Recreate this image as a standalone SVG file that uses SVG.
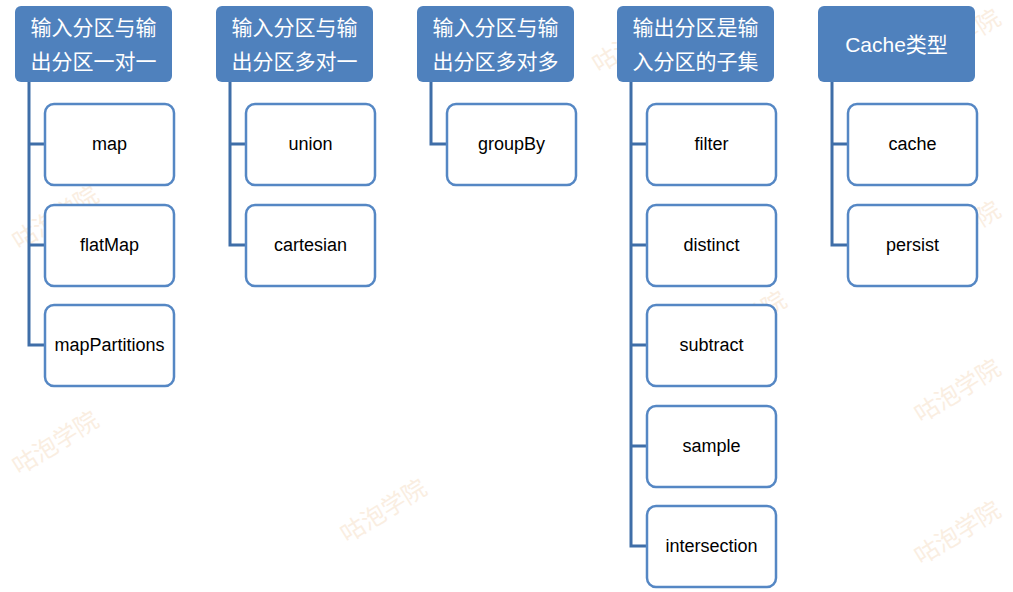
<svg xmlns="http://www.w3.org/2000/svg" width="1013" height="592" viewBox="0 0 1013 592">
<style>
.hd{fill:#4f81bd;}
.hdt{fill:#fff;font-family:"Liberation Sans","Noto Sans CJK SC",sans-serif;font-size:21px;text-anchor:middle;}
.ch{fill:#fff;stroke:#5587c4;stroke-width:2.5;}
.cht{fill:#000;font-family:"Liberation Sans","Noto Sans CJK SC",sans-serif;font-size:18px;text-anchor:middle;}
.cn{fill:none;stroke:#3f6ea8;stroke-width:3;}
.wm{fill:#f0c89e;opacity:0.3;font-family:"Noto Sans CJK SC",sans-serif;font-size:24px;text-anchor:middle;}
</style>
<rect width="1013" height="592" fill="#fff"/>
<g id="watermarks">
<text class="wm" transform="translate(388,518) rotate(-32)">咕泡学院</text>
<text class="wm" transform="translate(60,450) rotate(-32)">咕泡学院</text>
<text class="wm" transform="translate(962,398) rotate(-32)">咕泡学院</text>
<text class="wm" transform="translate(962,48) rotate(-32)">咕泡学院</text>
<text class="wm" transform="translate(962,240) rotate(-32)">咕泡学院</text>
<text class="wm" transform="translate(748,330) rotate(-32)">咕泡学院</text>
<text class="wm" transform="translate(640,48) rotate(-32)">咕泡学院</text>
<text class="wm" transform="translate(962,540) rotate(-32)">咕泡学院</text>
<text class="wm" transform="translate(60,225) rotate(-32)">咕泡学院</text>
</g>
<g id="connectors">
<path class="cn" d="M29,82 V345 H44 M29,144 H44 M29,245 H44"/>
<path class="cn" d="M230,82 V245 H245 M230,144 H245"/>
<path class="cn" d="M431,82 V144 H446"/>
<path class="cn" d="M631,82 V546 H646 M631,144 H646 M631,245 H646 M631,345 H646 M631,446 H646"/>
<path class="cn" d="M832,82 V245 H847 M832,144 H847"/>
</g>
<g id="h1"><rect class="hd" x="15" y="6" width="157" height="76" rx="6"/><text class="hdt" x="93.5" y="35">输入分区与输</text><text class="hdt" x="93.5" y="69">出分区一对一</text></g>
<g id="h2"><rect class="hd" x="216" y="6" width="157" height="76" rx="6"/><text class="hdt" x="294.5" y="35">输入分区与输</text><text class="hdt" x="294.5" y="69">出分区多对一</text></g>
<g id="h3"><rect class="hd" x="417" y="6" width="157" height="76" rx="6"/><text class="hdt" x="495.5" y="35">输入分区与输</text><text class="hdt" x="495.5" y="69">出分区多对多</text></g>
<g id="h4"><rect class="hd" x="617" y="6" width="157" height="76" rx="6"/><text class="hdt" x="695.5" y="35">输出分区是输</text><text class="hdt" x="695.5" y="69">入分区的子集</text></g>
<g id="h5"><rect class="hd" x="818" y="6" width="157" height="76" rx="6"/><text class="hdt" x="896.5" y="52">Cache类型</text></g>
<g id="c-map"><rect class="ch" x="45" y="104" width="129" height="81" rx="9"/><text class="cht" x="109.5" y="150">map</text></g>
<g id="c-flatMap"><rect class="ch" x="45" y="205" width="129" height="81" rx="9"/><text class="cht" x="109.5" y="251">flatMap</text></g>
<g id="c-mapPartitions"><rect class="ch" x="45" y="305" width="129" height="81" rx="9"/><text class="cht" x="109.5" y="351">mapPartitions</text></g>
<g id="c-union"><rect class="ch" x="246" y="104" width="129" height="81" rx="9"/><text class="cht" x="310.5" y="150">union</text></g>
<g id="c-cartesian"><rect class="ch" x="246" y="205" width="129" height="81" rx="9"/><text class="cht" x="310.5" y="251">cartesian</text></g>
<g id="c-groupBy"><rect class="ch" x="447" y="104" width="129" height="81" rx="9"/><text class="cht" x="511.5" y="150">groupBy</text></g>
<g id="c-filter"><rect class="ch" x="647" y="104" width="129" height="81" rx="9"/><text class="cht" x="711.5" y="150">filter</text></g>
<g id="c-distinct"><rect class="ch" x="647" y="205" width="129" height="81" rx="9"/><text class="cht" x="711.5" y="251">distinct</text></g>
<g id="c-subtract"><rect class="ch" x="647" y="305" width="129" height="81" rx="9"/><text class="cht" x="711.5" y="351">subtract</text></g>
<g id="c-sample"><rect class="ch" x="647" y="406" width="129" height="81" rx="9"/><text class="cht" x="711.5" y="452">sample</text></g>
<g id="c-intersection"><rect class="ch" x="647" y="506" width="129" height="81" rx="9"/><text class="cht" x="711.5" y="552">intersection</text></g>
<g id="c-cache"><rect class="ch" x="848" y="104" width="129" height="81" rx="9"/><text class="cht" x="912.5" y="150">cache</text></g>
<g id="c-persist"><rect class="ch" x="848" y="205" width="129" height="81" rx="9"/><text class="cht" x="912.5" y="251">persist</text></g>
</svg>
